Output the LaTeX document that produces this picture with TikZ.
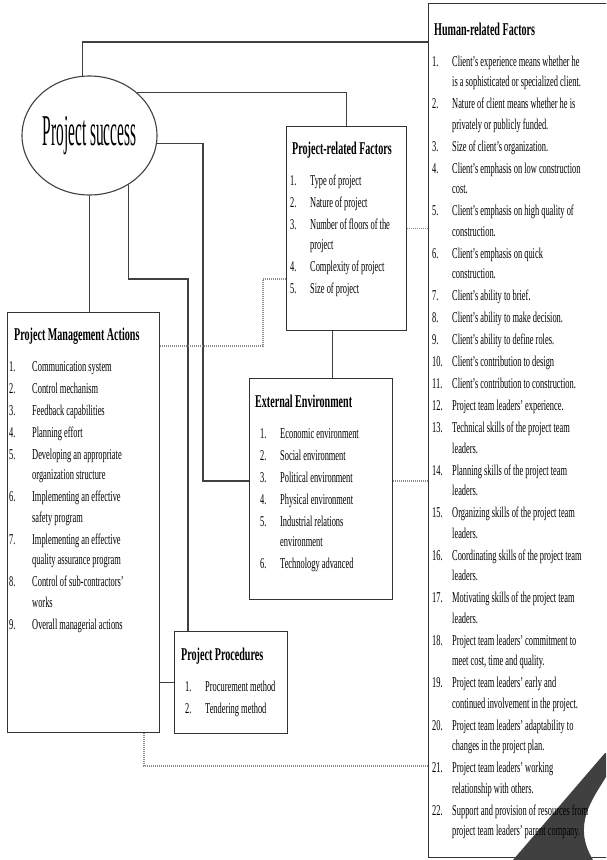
\documentclass[tikz,border=0pt]{standalone}
\usepackage{fontspec}
\setmainfont{Liberation Serif}[FakeStretch=0.56]
\newfontfamily\titlefont{Liberation Serif}[FakeStretch=0.35]
\usetikzlibrary{shapes.geometric,calc}

\newlength{\numw}
\setlength{\numw}{20pt}
% heading of a factor box, then numbered items with a hanging indent
\newcommand{\hd}[2][0pt]{{\hspace*{#1}\fontsize{18}{20}\selectfont\bfseries #2\par}\vskip9pt}
\newcommand{\itm}[2]{\vskip1.5pt\hangindent=\numw\hangafter=1\noindent\makebox[\numw][l]{#1.}#2\par}

\begin{document}
\begin{tikzpicture}[
  x=1pt, y=-1pt,
  font=\fontsize{15}{20.5}\selectfont,
  frame/.style={draw=black!80,line width=1pt,anchor=north west,inner sep=0pt},
  txt/.style={anchor=base west,inner sep=0pt,align=flush left,text=black},
  link/.style={draw=black!75,line width=1.1pt},
  dotlink/.style={draw=black!45,line width=1.1pt,dash pattern=on 1pt off 1pt}
]
\useasboundingbox (0,0) rectangle (606,860);
\clip (0,0) rectangle (606,860);

\node[draw=black!75,line width=1.1pt,ellipse,minimum width=135pt,minimum height=119pt,inner sep=0pt,
  font=\titlefont\fontsize{44}{44}\selectfont] (success) at (89.5,135.5) {Project success};

% frames of the five factor groups
\node[frame,minimum width=184pt,minimum height=854pt] (human) at (428,3) {};
\node[frame,minimum width=120pt,minimum height=204pt] (projrel) at (286,126) {};
\node[frame,minimum width=152pt,minimum height=420pt] (pma) at (7,312) {};
\node[frame,minimum width=143pt,minimum height=221pt] (extenv) at (249,378) {};
\node[frame,minimum width=113pt,minimum height=102pt] (proc) at (174,631) {};

% stray dark mark in the lower right corner of the scan
\fill[black!75] (513,860) -- (605,753) -- (606,753) -- (606,777)
  .. controls (592,800) and (572,825) .. (593,860) -- cycle;

\node[txt,text width=172pt] (human-txt) at (432,35) {\hd[2pt]{Human-related Factors}
  \itm{1}{Client's experience means whether he\newline is a sophisticated or specialized client.}
  \itm{2}{Nature of client means whether he is\newline privately or publicly funded.}
  \itm{3}{Size of client's organization.}
  \itm{4}{Client's emphasis on low construction\newline cost.}
  \itm{5}{Client's emphasis on high quality of\newline construction.}
  \itm{6}{Client's emphasis on quick\newline construction.}
  \itm{7}{Client's ability to brief.}
  \itm{8}{Client's ability to make decision.}
  \itm{9}{Client's ability to define roles.}
  \itm{10}{Client's contribution to design}
  \itm{11}{Client's contribution to construction.}
  \itm{12}{Project team leaders' experience.}
  \itm{13}{Technical skills of the project team\newline leaders.}
  \itm{14}{Planning skills of the project team\newline leaders.}
  \itm{15}{Organizing skills of the project team\newline leaders.}
  \itm{16}{Coordinating skills of the project team\newline leaders.}
  \itm{17}{Motivating skills of the project team\newline leaders.}
  \itm{18}{Project team leaders' commitment to\newline meet cost, time and quality.}
  \itm{19}{Project team leaders' early and\newline continued involvement in the project.}
  \itm{20}{Project team leaders' adaptability to\newline changes in the project plan.}
  \itm{21}{Project team leaders' working\newline relationship with others.}
  \itm{22}{Support and provision of resources from\newline project team leaders' parent company.}};

\node[txt,text width=112pt] (projrel-txt) at (290,154) {\hd[2pt]{Project-related Factors}
  \itm{1}{Type of project}
  \itm{2}{Nature of project}
  \itm{3}{Number of floors of the\newline project}
  \itm{4}{Complexity of project}
  \itm{5}{Size of project}};

\node[txt,text width=145pt] (pma-txt) at (9,340) {\setlength{\numw}{23pt}\hd[5pt]{Project Management Actions}
  \itm{1}{Communication system}
  \itm{2}{Control mechanism}
  \itm{3}{Feedback capabilities}
  \itm{4}{Planning effort}
  \itm{5}{Developing an appropriate\newline organization structure}
  \itm{6}{Implementing an effective\newline safety program}
  \itm{7}{Implementing an effective\newline quality assurance program}
  \itm{8}{Control of sub-contractors'\newline works}
  \itm{9}{Overall managerial actions}};

\node[txt,text width=128pt] (extenv-txt) at (260,407) {\hd[-5pt]{External Environment}
  \itm{1}{Economic environment}
  \itm{2}{Social environment}
  \itm{3}{Political environment}
  \itm{4}{Physical environment}
  \itm{5}{Industrial relations\newline environment}
  \itm{6}{Technology advanced}};

\node[txt,text width=100pt] (proc-txt) at (185,660) {\hd[-4pt]{Project Procedures}
  \itm{1}{Procurement method}
  \itm{2}{Tendering method}};

% solid links out of the ellipse
\coordinate (b3) at (203,481);
\coordinate (b5) at (188,279);
\draw[link] (success.97) |- ([yshift=-39pt]human.north west);
\draw[link] (success.42) -| (projrel.north);
\draw[link] (success.-7) -| (b3) -- (b3 -| extenv.west);
\draw[link] (success.south) -- (success.south |- pma.north);
\draw[link] (success.-52) |- (b5) -- (b5 |- proc.north);
\draw[link] ([xshift=-14pt]projrel.south) -- ([xshift=-14pt]projrel.south |- extenv.north);
\draw[link] (proc.west) -- (proc.west -| pma.east);

% dotted links between the groups
\coordinate (d1) at (263,346);
\coordinate (d1b) at (263,279);
\coordinate (d4) at (144,766);
\draw[dotlink] (d1 -| pma.east) -- (d1) -- (d1b) -- (d1b -| projrel.west);
\draw[dotlink] (projrel.east) -- (projrel.east -| human.west);
\draw[dotlink] (b3 -| extenv.east) -- (b3 -| human.west);
\draw[dotlink] (d4 |- pma.south) -- (d4) -- (d4 -| human.west);

\end{tikzpicture}
\end{document}
